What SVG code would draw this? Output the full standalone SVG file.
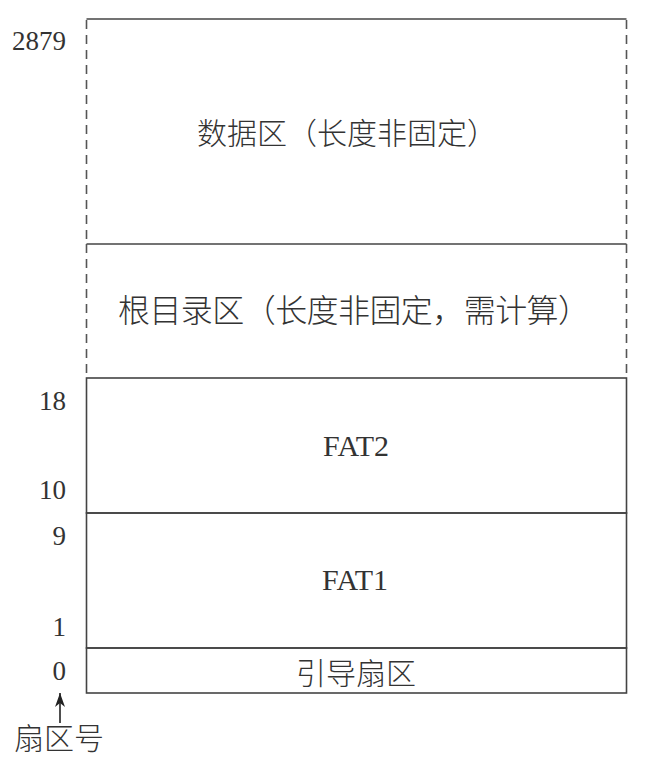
<svg xmlns="http://www.w3.org/2000/svg" width="658" height="759" viewBox="0 0 658 759">
<defs>
<style>
.ln{stroke:#444;stroke-width:1.6;fill:none}
.dash{stroke:#555;stroke-width:1.6;fill:none;stroke-dasharray:9 6}
.cjk{font-family:"Noto Sans CJK SC","Liberation Serif",serif;font-weight:300;fill:#333}
.num{font-family:"Liberation Serif",serif;fill:#333;font-size:27px}
.lat{font-family:"Liberation Serif",serif;fill:#333;font-size:30px}
</style>
<marker id="ah" viewBox="0 0 14 10" refX="14" refY="5" markerWidth="14" markerHeight="10" markerUnits="userSpaceOnUse" orient="auto">
<path d="M0,0 L14,5 L0,10 L4,5 Z" fill="#222"/>
</marker>
</defs>
<rect width="658" height="759" fill="#fff"/>
<g id="data-area">
<line class="ln" x1="86.5" y1="19" x2="626.5" y2="19"/>
<line class="dash" x1="86.5" y1="20" x2="86.5" y2="244"/>
<line class="dash" x1="626.5" y1="20" x2="626.5" y2="244"/>
<text class="cjk" x="197" y="144" font-size="30" textLength="300">数据区（长度非固定）</text>
</g>
<g id="root-dir">
<line class="ln" x1="86.5" y1="244" x2="626.5" y2="244"/>
<line class="dash" x1="86.5" y1="244" x2="86.5" y2="378"/>
<line class="dash" x1="626.5" y1="244" x2="626.5" y2="378"/>
<text class="cjk" x="118" y="322" font-size="32" textLength="472">根目录区（长度非固定，需计算）</text>
</g>
<g id="fat2">
<rect class="ln" x="86.5" y="378" width="540" height="135"/>
<text class="lat" x="356" y="456" text-anchor="middle">FAT2</text>
</g>
<g id="fat1">
<rect class="ln" x="86.5" y="513" width="540" height="135"/>
<text class="lat" x="355" y="590" text-anchor="middle">FAT1</text>
</g>
<g id="boot">
<rect class="ln" x="86.5" y="648" width="540" height="45"/>
<text class="cjk" x="356" y="684" font-size="30" text-anchor="middle">引导扇区</text>
</g>
<g id="sector-numbers">
<text class="num" x="66" y="50" text-anchor="end">2879</text>
<text class="num" x="66" y="410" text-anchor="end">18</text>
<text class="num" x="66" y="499" text-anchor="end">10</text>
<text class="num" x="66" y="545" text-anchor="end">9</text>
<text class="num" x="66" y="636" text-anchor="end">1</text>
<text class="num" x="66" y="680" text-anchor="end">0</text>
<text class="cjk" x="14" y="749" font-size="30">扇区号</text>
</g>
<g id="connectors">
<line x1="60" y1="723" x2="60" y2="693" stroke="#222" stroke-width="1.6" marker-end="url(#ah)"/>
</g>
</svg>
